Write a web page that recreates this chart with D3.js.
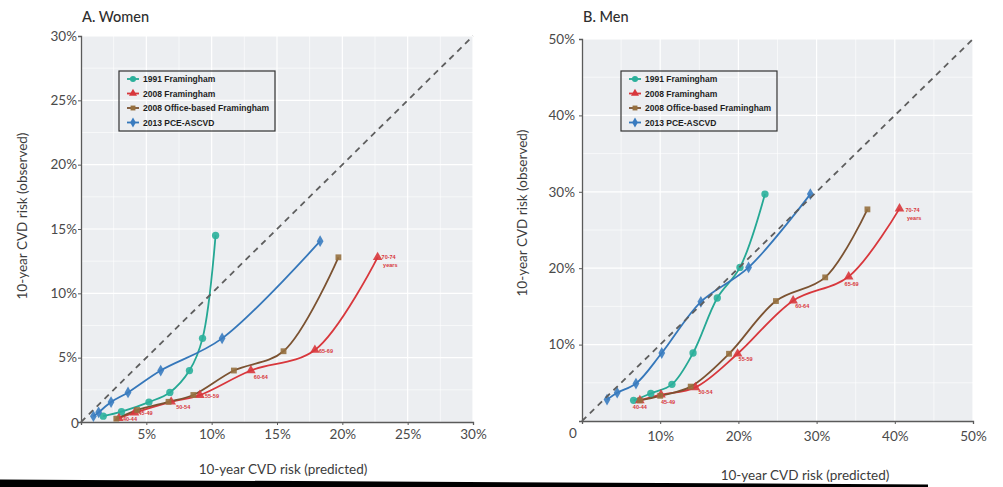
<!DOCTYPE html>
<html>
<head>
<meta charset="utf-8">
<script src="https://cdn.jsdelivr.net/npm/d3@7"></script>
<style>
  body { margin: 0; background: #fff; }
  svg { display: block; }
</style>
</head>
<body>
<script>
// ---- data (percent values) ----
var ageGroups = ["40-44", "45-49", "50-54", "55-59", "60-64", "65-69", "70-74"];
var modelNames = ["1991 Framingham", "2008 Framingham", "2008 Office-based Framingham", "2013 PCE-ASCVD"];

// Women
var womenFram1991Pred = [1.7, 3.1, 5.2, 6.8, 8.3, 9.3, 10.3];
var womenFram1991Obs  = [0.45, 0.8, 1.55, 2.3, 4.0, 6.5, 14.5];
var womenFram2008Pred = [2.9, 4.1, 6.9, 9.1, 13.0, 17.9, 22.7];
var womenFram2008Obs  = [0.29, 0.72, 1.57, 2.09, 4.0, 5.6, 12.8];
var womenOfficePred   = [2.7, 4.3, 6.7, 8.6, 11.7, 15.5, 19.7];
var womenOfficeObs    = [0.26, 0.93, 1.57, 2.1, 4.0, 5.5, 12.8];
var womenPcePred      = [0.95, 1.35, 2.3, 3.6, 6.1, 10.8, 18.3];
var womenPceObs       = [0.45, 0.75, 1.55, 2.3, 4.0, 6.5, 14.05];

// Men
var menFram1991Pred = [6.6, 8.8, 11.5, 14.2, 17.3, 20.2, 23.4];
var menFram1991Obs  = [2.7, 3.6, 4.8, 8.9, 16.1, 20.1, 29.7];
var menFram2008Pred = [7.4, 10.1, 14.5, 19.9, 27.0, 34.1, 40.6];
var menFram2008Obs  = [2.7, 3.45, 4.4, 8.8, 15.75, 18.9, 27.8];
var menOfficePred   = [7.4, 10.0, 13.9, 18.8, 24.8, 31.1, 36.5];
var menOfficeObs    = [2.7, 3.3, 4.5, 8.8, 15.7, 18.8, 27.7];
var menPcePred      = [3.2, 4.5, 6.9, 10.2, 15.2, 21.3, 29.2];
var menPceObs       = [2.8, 3.7, 4.9, 8.9, 15.6, 20.1, 29.7];

var womenXTicks = [5, 10, 15, 20, 25, 30];
var womenYTicks = [5, 10, 15, 20, 25, 30];
var menXTicks = [10, 20, 30, 40, 50];
var menYTicks = [10, 20, 30, 40, 50];

// ---- styles ----
var colors = ["#25a894", "#d8373c", "#7b5231", "#3577ba"];
var markerColors = ["#2bb09b", "#d8373c", "#96703f", "#3a7cc0"];
var symbols = [d3.symbolCircle, d3.symbolTriangle, d3.symbolSquare, d3.symbolDiamond];
var symbolSizes = [42, 40, 34, 40];

function zip(px, py) {
  return px.map(function(d, i) { return { x: d, y: py[i], age: ageGroups[i] }; });
}

var panels = [
  {
    title: "A. Women",
    left: 81, right: 473, top: 36, bottom: 422,
    max: 30, minor: 2.5,
    xTicks: womenXTicks, yTicks: womenYTicks,
    zeroLabel: [-6, 1],
    xLabelY: 443, yTitle: [27, 216], xTitle: [283, 474],
    legend: [119, 71],
    series: [
      zip(womenFram1991Pred, womenFram1991Obs),
      zip(womenFram2008Pred, womenFram2008Obs),
      zip(womenOfficePred, womenOfficeObs),
      zip(womenPcePred, womenPceObs)
    ],
    // age label offsets (dx, dy, anchor) for the 2008 Framingham markers
    ageOffsets: [[4, 3, "start"], [4, 2, "start"], [5, 7, "start"], [5, 3, "start"],
                 [3, 8, "start"], [4, 3, "start"], [4, 2, "start"]]
  },
  {
    title: "B. Men",
    left: 582, right: 973, top: 39, bottom: 421,
    max: 50, minor: 5,
    xTicks: menXTicks, yTicks: menYTicks,
    zeroLabel: [-9, 12],
    xLabelY: 445, yTitle: [527, 213], xTitle: [805, 480],
    legend: [621, 71],
    series: [
      zip(menFram1991Pred, menFram1991Obs),
      zip(menFram2008Pred, menFram2008Obs),
      zip(menOfficePred, menOfficeObs),
      zip(menPcePred, menPceObs)
    ],
    ageOffsets: [[0, 9, "middle"], [7, 9, "middle"], [3, 7, "start"], [1, 7, "start"],
                 [2, 7, "start"], [3, 9, "middle"], [6, 3, "start"]]
  }
];

var svg = d3.select("body").append("svg")
  .attr("width", 1003)
  .attr("height", 487);

var tickFont = "Lato, 'Open Sans', sans-serif";

panels.forEach(function(p) {
  var x = d3.scaleLinear().domain([0, p.max]).range([p.left, p.right]);
  var y = d3.scaleLinear().domain([0, p.max]).range([p.bottom, p.top]);
  var g = svg.append("g");

  // background
  g.append("rect")
    .attr("x", p.left).attr("y", p.top)
    .attr("width", p.right - p.left).attr("height", p.bottom - p.top)
    .attr("fill", "#eceef1");

  // grid lines (major + minor)
  var gridVals = d3.range(p.minor, p.max + 0.001, p.minor);
  gridVals.forEach(function(v, i) {
    var major = (i % 2 === 1);
    g.append("line")
      .attr("x1", x(v)).attr("x2", x(v))
      .attr("y1", p.top).attr("y2", p.bottom)
      .attr("stroke", "#fff").attr("stroke-width", major ? 1.2 : 0.6);
    g.append("line")
      .attr("x1", p.left).attr("x2", p.right)
      .attr("y1", y(v)).attr("y2", y(v))
      .attr("stroke", "#fff").attr("stroke-width", major ? 1.2 : 0.6);
  });

  // axes
  var xAxis = g.append("g")
    .attr("transform", "translate(0," + p.bottom + ")")
    .call(d3.axisBottom(x).tickValues(p.xTicks).tickSize(3).tickFormat(function(d) { return d + "%"; }));
  var yAxis = g.append("g")
    .attr("transform", "translate(" + p.left + ",0)")
    .call(d3.axisLeft(y).tickValues(p.yTicks).tickSize(3).tickFormat(function(d) { return d + "%"; }));

  [xAxis, yAxis].forEach(function(a) {
    a.select(".domain").attr("stroke", "#5a5a5a").attr("stroke-width", 1.3);
    a.selectAll(".tick line").attr("stroke", "#5a5a5a");
    a.selectAll(".tick text")
      .attr("fill", "#4a4a4a")
      .style("font-family", tickFont)
      .style("font-size", "13.5px");
  });
  xAxis.selectAll(".tick text").attr("y", p.xLabelY - p.bottom - 4).attr("dy", "0");
  yAxis.selectAll(".tick text").attr("x", p.left < 100 ? -4 : -7);

  g.append("text")
    .attr("x", p.left + p.zeroLabel[0])
    .attr("y", p.bottom + p.zeroLabel[1] + 5)
    .attr("text-anchor", "middle")
    .attr("fill", "#4a4a4a")
    .style("font-family", tickFont)
    .style("font-size", "13.5px")
    .text("0");

  // series curves
  var line = d3.line()
    .x(function(d) { return x(d.x); })
    .y(function(d) { return y(d.y); })
    .curve(d3.curveCatmullRom.alpha(0.5));

  p.series.forEach(function(s, i) {
    g.append("path")
      .datum(s)
      .attr("d", line)
      .attr("fill", "none")
      .attr("stroke", colors[i])
      .attr("stroke-width", 1.8);
  });

  p.series.forEach(function(s, i) {
    g.selectAll(".m" + i)
      .data(s)
      .enter()
      .append("path")
      .attr("class", "m" + i)
      .attr("transform", function(d) { return "translate(" + x(d.x) + "," + y(d.y) + ")"; })
      .attr("d", d3.symbol().type(symbols[i]).size(symbolSizes[i]))
      .attr("fill", markerColors[i])
      .attr("opacity", 0.9);
  });

  // identity line
  g.append("line")
    .attr("x1", x(0)).attr("y1", y(0))
    .attr("x2", x(p.max)).attr("y2", y(p.max))
    .attr("stroke", "#5e5e5e")
    .attr("stroke-width", 1.8)
    .attr("stroke-dasharray", "6,5");

  // age group labels next to 2008 Framingham markers
  p.series[1].forEach(function(d, i) {
    var off = p.ageOffsets[i];
    g.append("text")
      .attr("x", x(d.x) + off[0])
      .attr("y", y(d.y) + off[1])
      .attr("text-anchor", off[2])
      .attr("fill", "#d8373c")
      .style("font-family", "'Liberation Sans', Arial, sans-serif")
      .style("font-weight", "bold")
      .style("font-size", "5.5px")
      .text(d.age);
    if (i === ageGroups.length - 1) {
      g.append("text")
        .attr("x", x(d.x) + off[0] + 1.5)
        .attr("y", y(d.y) + off[1] + 8)
        .attr("fill", "#d8373c")
        .style("font-family", "'Liberation Sans', Arial, sans-serif")
        .style("font-weight", "bold")
        .style("font-size", "5.5px")
        .text("years");
    }
  });

  // legend
  var lg = g.append("g").attr("transform", "translate(" + p.legend[0] + "," + p.legend[1] + ")");
  lg.append("rect")
    .attr("width", 156).attr("height", 60)
    .attr("fill", "none")
    .attr("stroke", "#333").attr("stroke-width", 1.2);
  modelNames.forEach(function(name, i) {
    var ry = 8 + i * 14.5;
    lg.append("line")
      .attr("x1", 8).attr("x2", 20)
      .attr("y1", ry).attr("y2", ry)
      .attr("stroke", colors[i]).attr("stroke-width", 1.8);
    lg.append("path")
      .attr("transform", "translate(14," + ry + ")")
      .attr("d", d3.symbol().type(symbols[i]).size(symbolSizes[i] * 0.7))
      .attr("fill", markerColors[i]);
    lg.append("text")
      .attr("x", 24).attr("y", ry + 3)
      .attr("fill", "#1e1e1e")
      .style("font-family", "'Liberation Sans', Arial, sans-serif")
      .style("font-weight", "bold")
      .style("font-size", "8.5px")
      .text(name);
  });

  // titles
  g.append("text")
    .attr("x", p.left + 1).attr("y", 22)
    .attr("fill", "#2e2e2e")
    .style("font-family", tickFont)
    .style("font-size", "14.5px")
    .style("font-weight", "500")
    .text(p.title);

  g.append("text")
    .attr("transform", "translate(" + p.yTitle[0] + "," + p.yTitle[1] + ") rotate(-90)")
    .attr("text-anchor", "middle")
    .attr("fill", "#3c3c3c")
    .style("font-family", tickFont)
    .style("font-size", "13.5px")
    .text("10-year CVD risk (observed)");

  g.append("text")
    .attr("x", p.xTitle[0]).attr("y", p.xTitle[1])
    .attr("text-anchor", "middle")
    .attr("fill", "#3c3c3c")
    .style("font-family", tickFont)
    .style("font-size", "13.5px")
    .text("10-year CVD risk (predicted)");
});

// page rule along the bottom (slightly tilted in the scan)
svg.append("path")
  .attr("d", "M0,479.5 L928,484.5 L928,487 L0,487 Z")
  .attr("fill", "#000");
</script>
</body>
</html>
